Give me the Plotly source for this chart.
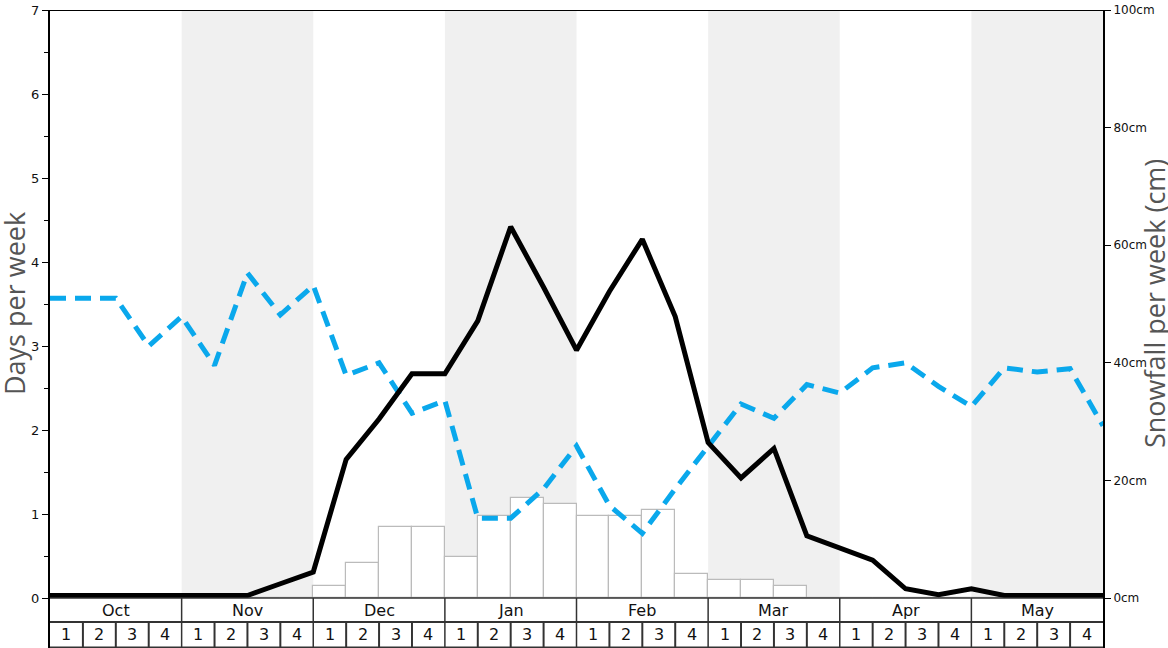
import plotly.graph_objects as go

months = ['Oct', 'Nov', 'Dec', 'Jan', 'Feb', 'Mar', 'Apr', 'May']
week_labels = ['1', '2', '3', '4']

# days per week, one value per week boundary (33 points)
days_black = [0.03, 0.03, 0.03, 0.03, 0.03, 0.03, 0.03, 0.17, 0.31,
              1.65, 2.13, 2.67, 2.67, 3.30, 4.42, 3.70, 2.95, 3.65,
              4.27, 3.35, 1.85, 1.43, 1.78, 0.74, 0.60, 0.45, 0.11,
              0.04, 0.11, 0.03, 0.03, 0.03, 0.03]
days_blue = [3.57, 3.57, 3.57, 3.00, 3.35, 2.77, 3.87, 3.37, 3.72,
             2.65, 2.80, 2.20, 2.35, 0.95, 0.95, 1.30, 1.81, 1.10,
             0.77, 1.30, 1.81, 2.31, 2.14, 2.54, 2.44, 2.74, 2.80,
             2.52, 2.28, 2.74, 2.69, 2.73, 2.05]

# snowfall per week in cm (32 weeks)
snow_cm = [0, 0, 0, 0, 0, 0, 0, 0,
           2, 6, 12, 12, 7, 14, 17, 16,
           14, 14, 15, 4, 3, 3, 2, 0,
           0, 0, 0, 0, 0, 0, 0, 0]

n_weeks = len(snow_cm)
tbl = -0.595          # bottom of the week table in "days" units
row_split = -0.286    # line between month row and week row

fig = go.Figure()

fig.add_trace(go.Bar(
    x=[i + 0.5 for i in range(n_weeks)], y=snow_cm, width=1,
    marker=dict(color='white', line=dict(color='#bbbbbb', width=1.2)),
    yaxis='y', showlegend=False, hoverinfo='y'
))
fig.add_trace(go.Scatter(
    x=list(range(n_weeks + 1)), y=days_blue, mode='lines',
    line=dict(color='#0aa8ec', width=5, dash='16px,9px'),
    yaxis='y2', showlegend=False
))
fig.add_trace(go.Scatter(
    x=list(range(n_weeks + 1)), y=days_black, mode='lines',
    line=dict(color='black', width=5),
    yaxis='y2', showlegend=False
))

shapes = []
# alternating month shading
for m in range(len(months)):
    if m % 2 == 1:
        shapes.append(dict(type='rect', xref='x', yref='y2', x0=m * 4, x1=m * 4 + 4,
                           y0=0, y1=7, fillcolor='#f0f0f0', line_width=0, layer='below'))
# table grid
shapes.append(dict(type='line', xref='x', yref='y2', x0=0, x1=n_weeks, y0=0, y1=0,
                   line=dict(color='#333', width=1.5)))
shapes.append(dict(type='line', xref='x', yref='y2', x0=0, x1=n_weeks, y0=row_split, y1=row_split,
                   line=dict(color='#333', width=2)))
shapes.append(dict(type='line', xref='x', yref='y2', x0=0, x1=n_weeks, y0=tbl, y1=tbl,
                   line=dict(color='#333', width=3)))
shapes.append(dict(type='line', xref='x', yref='y2', x0=0, x1=n_weeks, y0=7, y1=7,
                   line=dict(color='black', width=2)))
for w in range(1, n_weeks):
    top = 0 if w % 4 == 0 else row_split
    shapes.append(dict(type='line', xref='x', yref='y2', x0=w, x1=w, y0=tbl, y1=top,
                       line=dict(color='#333', width=1.5 if w % 4 == 0 else 2)))

annotations = []
for m, name in enumerate(months):
    annotations.append(dict(x=m * 4 + 2, y=(0 + row_split) / 2, xref='x', yref='y2',
                            text=name, showarrow=False,
                            font=dict(family='DejaVu Sans', size=16, color='#111')))
    for k, wl in enumerate(week_labels):
        annotations.append(dict(x=m * 4 + k + 0.5, y=(row_split + tbl) / 2 + 0.01, xref='x', yref='y2',
                                text=wl, showarrow=False,
                                font=dict(family='DejaVu Sans', size=16, color='#111')))
annotations.append(dict(x=0, xshift=-36, y=3.5, xref='paper', yref='y2', text='Days per week',
                        showarrow=False, textangle=-90, xanchor='center', yanchor='middle',
                        font=dict(family='Open Sans', size=27, color='#555')))
annotations.append(dict(x=1, xshift=51, y=3.5, xref='paper', yref='y2',
                        text='Snowfall per week (cm)', showarrow=False, textangle=-90,
                        xanchor='center', yanchor='middle',
                        font=dict(family='Open Sans', size=27, color='#555')))

fig.update_layout(
    width=1168, height=648,
    margin=dict(l=50, r=65, t=10, b=0),
    paper_bgcolor='white', plot_bgcolor='white',
    bargap=0,
    shapes=shapes, annotations=annotations,
    xaxis=dict(range=[0, n_weeks], showticklabels=False, showgrid=False, zeroline=False,
               ticks='', showline=False),
    yaxis=dict(side='right', range=[-50 / 5.88, 100], showgrid=False, zeroline=False,
               tickvals=[0, 20, 40, 60, 80, 100],
               ticktext=['0cm', '20cm', '40cm', '60cm', '80cm', '100cm'],
               ticks='outside', ticklen=6, tickcolor='black', tickwidth=1,
               showline=True, linecolor='black', linewidth=2,
               tickfont=dict(family='DejaVu Sans', size=12, color='#111')),
    yaxis2=dict(side='left', overlaying='y', range=[tbl, 7], showgrid=False, zeroline=False,
                tickvals=list(range(8)),
                ticks='outside', ticklen=6, tickcolor='black', tickwidth=1,
                minor=dict(tickvals=[i + 0.5 for i in range(7)], ticks='outside', ticklen=4,
                           tickcolor='black', tickwidth=1),
                showline=True, linecolor='black', linewidth=2,
                tickfont=dict(family='DejaVu Sans', size=13, color='#111')),
)

# page body has a default margin; drop it so the figure fills the window
fig.write_html("out.html", config={'displayModeBar': False},
               post_script="document.body.style.margin='0';document.body.style.overflow='hidden';")
